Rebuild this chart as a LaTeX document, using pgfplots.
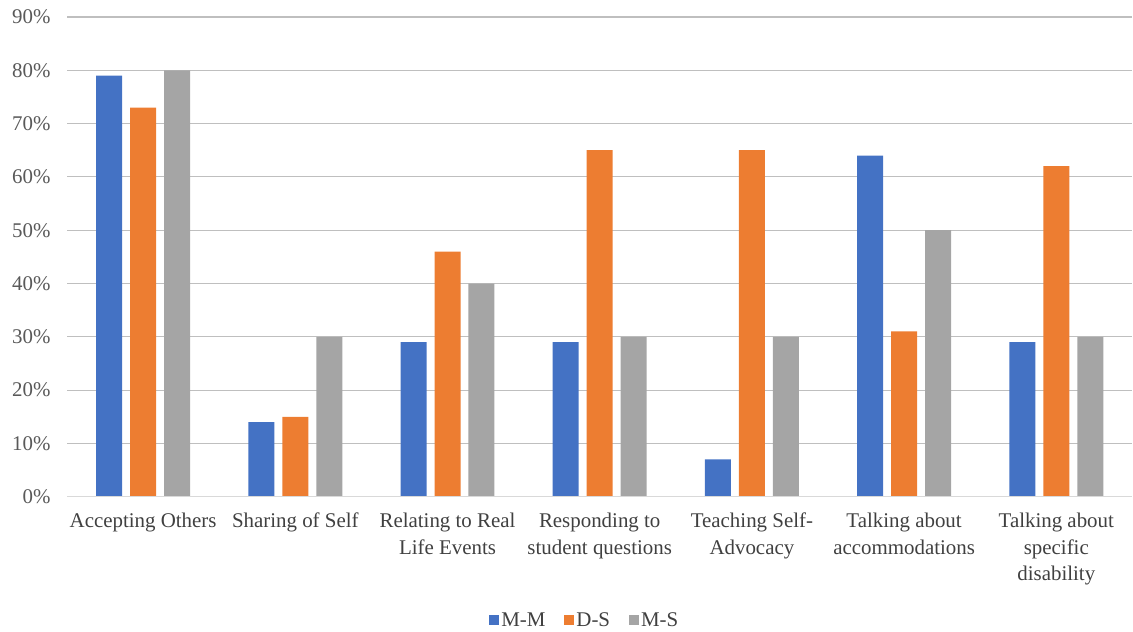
\documentclass[border=0pt]{standalone}
\usepackage{pgfplots}
\pgfplotsset{compat=1.18}
\usepackage{fontspec}
\setmainfont{Liberation Serif}
\definecolor{cMM}{HTML}{4472C4}
\definecolor{cDS}{HTML}{ED7D31}
\definecolor{cMS}{HTML}{A5A5A5}
\definecolor{grid}{HTML}{D9D9D9}
\definecolor{txt}{HTML}{404040}
\definecolor{ytxt}{HTML}{595959}
\begin{document}
\begin{tikzpicture}
\begin{axis}[
  scale only axis,
  width=1066bp, height=480bp,
  ybar=8bp, bar width=26bp,
  xmin=-0.5, xmax=6.5,
  ymin=0, ymax=90,
  ytick={0,10,...,90},
  yticklabel={\pgfmathprintnumber{\tick}\%},
  /pgf/number format/assume math mode=true,
  xtick={0,1,2,3,4,5,6},
  xticklabels={Accepting Others, Sharing of Self, {Relating to Real\\Life Events}, {Responding to\\student questions}, {Teaching Self-\\Advocacy}, {Talking about\\accommodations}, {Talking about\\specific\\disability}},
  xticklabel style={align=center, font=\fontsize{21}{26.5}\selectfont, text=txt, yshift=-13bp},
  yticklabel style={font=\fontsize{21}{24}\selectfont, text=ytxt, xshift=-13bp},
  major tick length=0pt,
  xmajorgrids=false, xminorgrids=false,
  axis line style={draw=none},
  ymajorgrids, grid style={grid, line width=1.2pt},
  clip=false,
  legend style={at={(0.486,-0.257)}, anchor=center, draw=none, legend columns=3,
    font=\fontsize{21}{24}\selectfont, text=txt,
    /tikz/every even column/.append style={column sep=17bp}},
  legend image code/.code={\fill[#1] (0bp,-5bp) rectangle (10bp,5bp);},
]
\addplot[fill=cMM, draw=none] coordinates {(0,79) (1,14) (2,29) (3,29) (4,7) (5,64) (6,29)};
\addplot[fill=cDS, draw=none] coordinates {(0,73) (1,15) (2,46) (3,65) (4,65) (5,31) (6,62)};
\addplot[fill=cMS, draw=none] coordinates {(0,80) (1,30) (2,40) (3,30) (4,30) (5,50) (6,30)};
\legend{M-M, D-S, M-S}
\draw[grid, line width=1.2pt] (rel axis cs:0,0) -- (rel axis cs:1,0);
\path[use as bounding box] (rel axis cs:-0.0629,-0.277) rectangle (rel axis cs:1,1.0354);
\end{axis}
\end{tikzpicture}
\end{document}
